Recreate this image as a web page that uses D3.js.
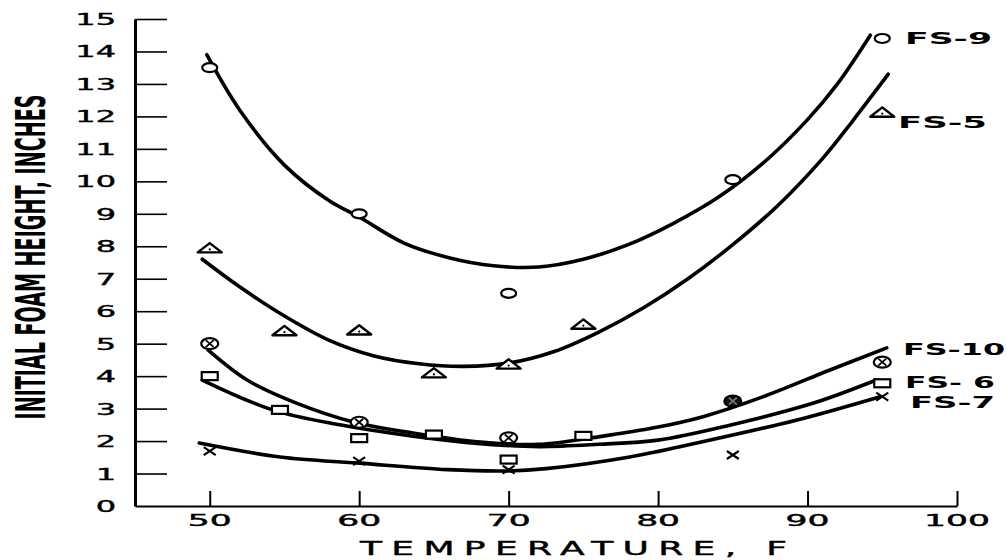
<!DOCTYPE html>
<html>
<head>
<meta charset="utf-8">
<script src="https://cdn.jsdelivr.net/npm/d3@7"></script>
<style>
  html, body { margin: 0; padding: 0; background: #fff; }
  svg { display: block; }
</style>
</head>
<body>
<svg id="chart" width="1007" height="560"></svg>
<script>
// ---- Measured points (temperature °F, initial foam height in.) ----
const fs9Temp    = [50, 60, 70, 85, 95];
const fs9Height  = [13.5, 9.0, 6.55, 10.05, 14.4];
const fs5Temp    = [50, 55, 60, 65, 70, 75, 95];
const fs5Height  = [7.95, 5.4, 5.42, 4.1, 4.37, 5.6, 12.13];
const fs10Temp   = [50, 60, 70, 85, 95];
const fs10Height = [5.0, 2.58, 2.1, 3.23, 4.43];
const fs6Temp    = [50, 54.7, 60, 65, 70, 75, 95];
const fs6Height  = [4.0, 2.96, 2.09, 2.2, 1.43, 2.16, 3.78];
const fs7Temp    = [50, 60, 70, 85, 95];
const fs7Height  = [1.69, 1.38, 1.12, 1.57, 3.37];

// ---- Hand-faired curves through each series ----
const fs9CurveTemp    = [49.8, 52, 55, 58, 60, 63, 66, 69, 72, 75, 78, 81, 84, 87, 90, 92, 94.2];
const fs9CurveHeight  = [13.9, 12.2, 10.5, 9.4, 8.9, 8.1, 7.65, 7.4, 7.36, 7.6, 8.05, 8.7, 9.5, 10.55, 11.9, 13.0, 14.5];
const fs5CurveTemp    = [49.5, 52, 55, 58, 61, 64, 67, 70, 73, 76, 79, 82, 85, 88, 91, 93, 95.4];
const fs5CurveHeight  = [7.6, 6.75, 5.85, 5.1, 4.62, 4.38, 4.3, 4.4, 4.75, 5.35, 6.1, 7.0, 8.05, 9.25, 10.7, 11.85, 13.3];
const fs10CurveTemp   = [49.9, 52.5, 55.8, 59.6, 63.6, 68.1, 72, 76, 80, 83, 87, 91.5, 95.3];
const fs10CurveHeight = [4.8, 3.88, 3.17, 2.59, 2.25, 1.97, 1.9, 2.13, 2.43, 2.75, 3.36, 4.19, 4.87];
const fs6CurveTemp    = [49.5, 54.2, 58.7, 63.6, 68.1, 72, 76, 80, 84.8, 90.4, 94.6];
const fs6CurveHeight  = [3.88, 2.96, 2.5, 2.15, 1.92, 1.83, 1.9, 2.03, 2.49, 3.17, 3.88];
const fs7CurveTemp    = [49.3, 54.7, 60, 65.9, 70, 72.5, 78.1, 82.6, 89.3, 94.8];
const fs7CurveHeight  = [1.94, 1.51, 1.32, 1.12, 1.08, 1.15, 1.51, 1.94, 2.65, 3.36];

const seriesNames  = ["FS-9", "FS-5", "FS-10", "FS- 6", "FS-7"];
const xTickValues  = [50, 60, 70, 80, 90, 100];
const xTickLabels  = ["50", "60", "70", "80", "90", "100"];
const yTickValues  = [0, 1, 2, 3, 4, 5, 6, 7, 8, 9, 10, 11, 12, 13, 14, 15];
const yTickLabels  = ["0", "1", "2", "3", "4", "5", "6", "7", "8", "9", "10", "11", "12", "13", "14", "15"];
const xTitle = "TEMPERATURE, F";
const yTitle = "INITIAL FOAM HEIGHT, INCHES";
// the FS-10 point at this temperature is drawn solid
const fs10SolidTemp = 85;

// ---- Scales ----
const svg = d3.select("#chart");
const x = d3.scaleLinear().domain([45, 100]).range([135, 957]);
const y = d3.scaleLinear().domain([0, 15]).range([506, 19]);

const FONT = "'DejaVu Sans', 'Liberation Sans', sans-serif";

// ---- Axes ----
const yAxis = d3.axisLeft(y)
  .tickValues(yTickValues.filter(v => v > 0))
  .tickSizeInner(-32).tickSizeOuter(0).tickFormat("");
const gy = svg.append("g").attr("transform", `translate(${x(45)},0)`).call(yAxis);
gy.select(".domain").attr("stroke", "#000").attr("stroke-width", 3);
gy.selectAll(".tick line").attr("stroke", "#000").attr("stroke-width", 1.6);

const xAxis = d3.axisBottom(x)
  .tickValues(xTickValues)
  .tickSizeInner(-15).tickSizeOuter(0).tickFormat("");
const gx = svg.append("g").attr("transform", `translate(0,${y(0)})`).call(xAxis);
gx.select(".domain").attr("stroke", "#000").attr("stroke-width", 2);
gx.selectAll(".tick line").attr("stroke", "#000").attr("stroke-width", 2);

// wide, heavy tick lettering
svg.append("g").selectAll("text")
  .data(d3.zip(yTickValues, yTickLabels))
  .join("text")
  .attr("transform", d => `translate(116,${y(d[0]) + 6}) scale(2,1)`)
  .attr("text-anchor", "end")
  .attr("font-family", FONT).attr("font-size", 16)
  .attr("fill", "#000").attr("stroke", "#000").attr("stroke-width", 0.4)
  .text(d => d[1]);

svg.append("g").selectAll("text")
  .data(d3.zip(xTickValues, xTickLabels))
  .join("text")
  .attr("transform", d => `translate(${x(d[0])},526) scale(2.3,1)`)
  .attr("text-anchor", "middle")
  .attr("font-family", FONT).attr("font-size", 15)
  .attr("fill", "#000").attr("stroke", "#000").attr("stroke-width", 0.4)
  .text(d => d[1]);

// axis titles
svg.append("g").attr("transform", "translate(360,555) scale(1.9,1)")
  .append("text")
  .attr("font-family", FONT).attr("font-size", 19)
  .attr("textLength", 427 / 1.9).attr("lengthAdjust", "spacing")
  .attr("fill", "#000").attr("stroke", "#000").attr("stroke-width", 0.4)
  .text(xTitle);

// condensed vertical title, squeezed to its measured length
const yt = svg.append("text")
  .attr("text-anchor", "middle")
  .attr("font-family", FONT).attr("font-size", 41).attr("font-weight", "bold")
  .attr("fill", "#000")
  .text(yTitle);
const ytLen = yt.node().getComputedTextLength();
yt.attr("transform", `translate(45,257) rotate(-90) scale(${325 / ytLen},1)`);

// ---- Series ----
const series = [
  { name: seriesNames[0], pts: d3.zip(fs9Temp, fs9Height),   curve: d3.zip(fs9CurveTemp, fs9CurveHeight),   marker: "circle" },
  { name: seriesNames[1], pts: d3.zip(fs5Temp, fs5Height),   curve: d3.zip(fs5CurveTemp, fs5CurveHeight),   marker: "triangle" },
  { name: seriesNames[2], pts: d3.zip(fs10Temp, fs10Height), curve: d3.zip(fs10CurveTemp, fs10CurveHeight), marker: "crossCircle" },
  { name: seriesNames[3], pts: d3.zip(fs6Temp, fs6Height),   curve: d3.zip(fs6CurveTemp, fs6CurveHeight),   marker: "square" },
  { name: seriesNames[4], pts: d3.zip(fs7Temp, fs7Height),   curve: d3.zip(fs7CurveTemp, fs7CurveHeight),   marker: "x" }
];

const line = d3.line()
  .x(d => x(d[0])).y(d => y(d[1]))
  .curve(d3.curveCatmullRom.alpha(0.5));

svg.append("g").selectAll("path")
  .data(series)
  .join("path")
  .attr("d", s => line(s.curve))
  .attr("fill", "none").attr("stroke", "#000")
  .attr("stroke-width", 3.6).attr("stroke-linecap", "round");

function drawMarker(g, type, solid) {
  if (type === "circle") {
    g.append("ellipse").attr("rx", 7.5).attr("ry", 4.5)
      .attr("fill", "#fff").attr("stroke", "#000").attr("stroke-width", 2.2);
  } else if (type === "triangle") {
    g.append("path").attr("d", "M-12,4.5L0,-4.8L12,4.5Z")
      .attr("fill", "#fff").attr("stroke", "#000").attr("stroke-width", 2.4).attr("stroke-linejoin", "round");
    g.append("circle").attr("cx", 0).attr("cy", 1.5).attr("r", 1.1).attr("fill", "#000");
  } else if (type === "crossCircle") {
    g.append("ellipse").attr("rx", 8.5).attr("ry", 5.5)
      .attr("fill", solid ? "#111" : "#fff").attr("stroke", "#000").attr("stroke-width", 2.2);
    g.append("path").attr("d", "M-4,-3.5L4,3.5M-4,3.5L4,-3.5")
      .attr("stroke", solid ? "#777" : "#000").attr("stroke-width", 1.8);
  } else if (type === "square") {
    g.append("rect").attr("x", -8).attr("y", -4).attr("width", 16).attr("height", 8)
      .attr("fill", "#fff").attr("stroke", "#000").attr("stroke-width", 2.2);
  } else if (type === "x") {
    g.append("path").attr("d", "M-6,-4L6,4M-6,4L6,-4").attr("stroke", "#000").attr("stroke-width", 2.2);
  }
}

series.forEach(s => {
  const g = svg.append("g");
  s.pts.forEach(p => {
    const m = g.append("g").attr("transform", `translate(${x(p[0])},${y(p[1])})`);
    drawMarker(m, s.marker, s.marker === "crossCircle" && p[0] === fs10SolidTemp);
  });
});

// ---- Series labels at the right-hand ends ----
const labelLayout = [
  { x: 905, y: 44,  w: 87 },
  { x: 898, y: 128, w: 89 },
  { x: 903, y: 355, w: 102 },
  { x: 905, y: 388, w: 90 },
  { x: 910, y: 408, w: 85 }
];
svg.append("g").selectAll("text")
  .data(series)
  .join("text")
  .attr("x", (s, i) => labelLayout[i].x)
  .attr("y", (s, i) => labelLayout[i].y)
  .attr("textLength", (s, i) => labelLayout[i].w)
  .attr("lengthAdjust", "spacingAndGlyphs")
  .attr("font-family", FONT).attr("font-size", 15).attr("font-weight", "bold")
  .attr("fill", "#000")
  .text(s => s.name);
</script>
</body>
</html>
